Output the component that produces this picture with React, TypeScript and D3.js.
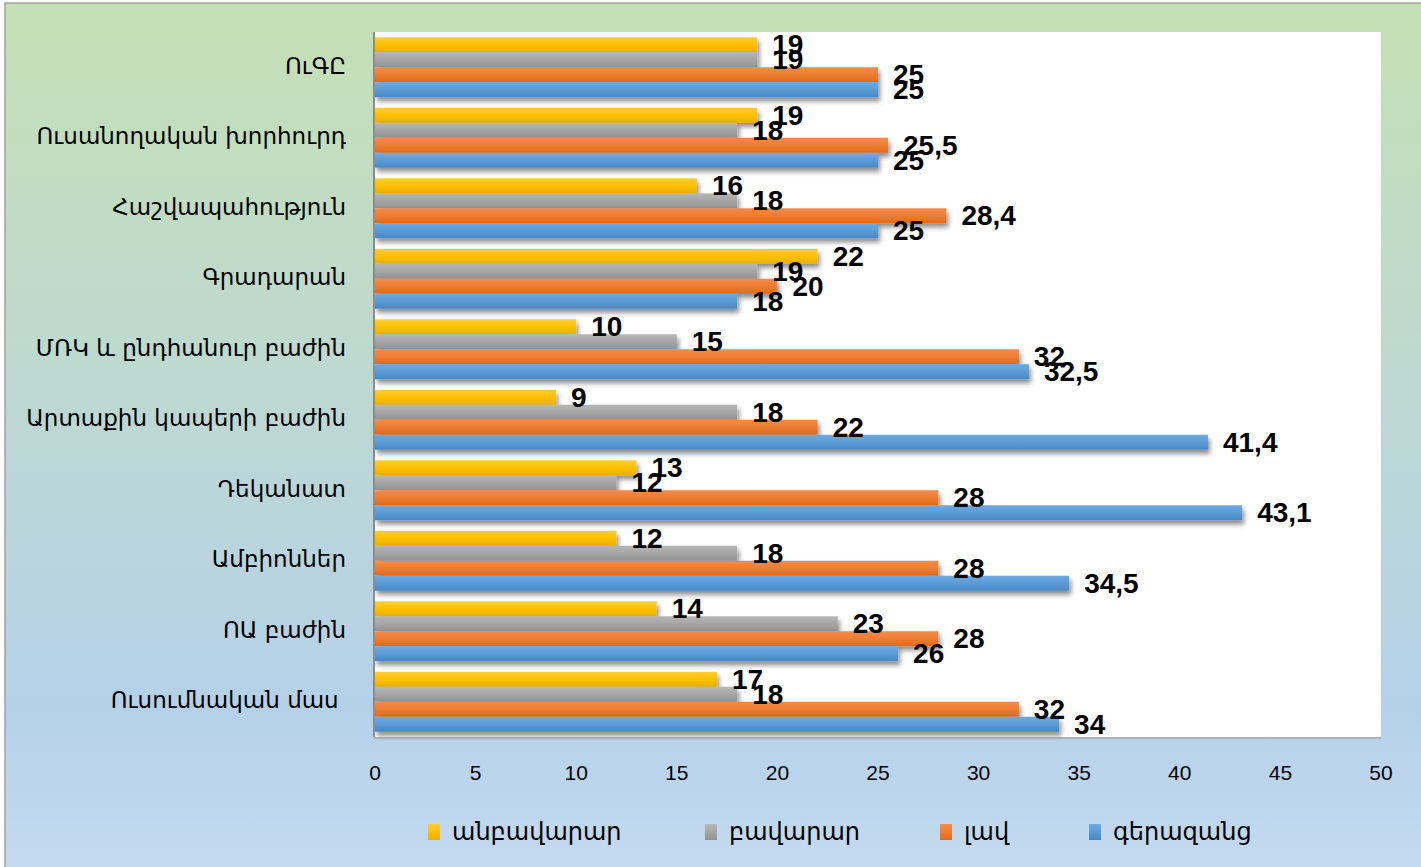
import React, { useEffect, useRef } from 'react';
import * as d3 from 'd3';

// categories from top to bottom
const categories = [
  'ՈւԳԸ',
  'Ուսանողական խորհուրդ',
  'Հաշվապահություն',
  'Գրադարան',
  'ՄՌԿ և ընդհանուր բաժին',
  'Արտաքին կապերի բաժին',
  'Դեկանատ',
  'Ամբիոններ',
  'ՈԱ բաժին',
  'Ուսումնական մաս ',
];

const seriesNames = ['անբավարար', 'բավարար', 'լավ', 'գերազանց'];

const anbavarar = [19, 19, 16, 22, 10, 9, 13, 12, 14, 17];
const bavarar = [19, 18, 18, 19, 15, 18, 12, 18, 23, 18];
const lav = [25, 25.5, 28.4, 20, 32, 22, 28, 28, 28, 32];
const gerazanc = [25, 25, 25, 18, 32.5, 41.4, 43.1, 34.5, 26, 34];

const xTicks = [0, 5, 10, 15, 20, 25, 30, 35, 40, 45, 50];

const colors = [
  ['#ffcd3a', '#ffc000', '#e9b000'],
  ['#b7b7b7', '#a5a5a5', '#939393'],
  ['#f58b4c', '#ed7d31', '#e06a1c'],
  ['#6eaae2', '#5b9bd5', '#4787c8'],
];

const W = 1421;
const H = 867;
const armFont = '"DejaVu Sans", sans-serif';
const numFont = '"Liberation Sans", Arial, sans-serif';

const App = () => {
  const svgRef = useRef<SVGSVGElement>(null);

  useEffect(() => {
    const svg = d3.select(svgRef.current);
    svg.selectAll('*').remove();

    const margin = { top: 32, right: 40, bottom: 130, left: 375 };
    const innerW = 1381 - margin.left;
    const innerH = H - margin.top - margin.bottom;

    const values = [anbavarar, bavarar, lav, gerazanc];
    const rows = categories.map((c, i) => ({ cat: c, vals: values.map(s => s[i]) }));

    const x = d3.scaleLinear().domain([0, 50]).range([0, innerW]);
    const y = d3.scaleBand().domain(categories).range([0, innerH]).paddingInner(0.15).paddingOuter(0.075);
    const ySub = d3.scaleBand().domain(seriesNames).range([0, y.bandwidth()]);

    const defs = svg.append('defs');
    const bg = defs.append('linearGradient').attr('id', 'bg').attr('x1', 0).attr('y1', 0).attr('x2', 0).attr('y2', 1);
    bg.append('stop').attr('offset', '0%').attr('stop-color', '#c5e0b4');
    bg.append('stop').attr('offset', '40%').attr('stop-color', '#bed9cf');
    bg.append('stop').attr('offset', '80%').attr('stop-color', '#b5d1ea');
    bg.append('stop').attr('offset', '100%').attr('stop-color', '#c6dbf0');

    colors.forEach((c, i) => {
      const g = defs.append('linearGradient').attr('id', `bar${i}`).attr('x1', 0).attr('y1', 0).attr('x2', 0).attr('y2', 1);
      g.append('stop').attr('offset', '0%').attr('stop-color', c[0]);
      g.append('stop').attr('offset', '50%').attr('stop-color', c[1]);
      g.append('stop').attr('offset', '100%').attr('stop-color', c[2]);
    });

    const shadow = defs.append('filter').attr('id', 'shadow').attr('x', '-5%').attr('y', '-30%').attr('width', '120%').attr('height', '200%');
    shadow.append('feDropShadow').attr('dx', 2).attr('dy', 4).attr('stdDeviation', 2.5)
      .attr('flood-color', '#000').attr('flood-opacity', 0.45);

    // chart area background + border
    svg.append('rect').attr('x', 0).attr('y', 0).attr('width', W).attr('height', H).attr('fill', '#fff');
    svg.append('rect').attr('x', 5).attr('y', 3).attr('width', W + 20).attr('height', H + 20)
      .attr('fill', 'url(#bg)').attr('stroke', '#a3a3a3').attr('stroke-width', 1.5);

    const g = svg.append('g').attr('transform', `translate(${margin.left},${margin.top})`);

    g.append('rect').attr('width', innerW).attr('height', innerH).attr('fill', '#fff');

    const groups = g.selectAll('g.cat').data(rows).enter().append('g')
      .attr('class', 'cat')
      .attr('transform', d => `translate(0,${y(d.cat)})`);

    groups.selectAll('rect')
      .data(d => d.vals.map((v, i) => ({ v, i })))
      .enter().append('rect')
      .attr('x', 0)
      .attr('y', d => ySub(seriesNames[d.i])!)
      .attr('width', d => x(d.v))
      .attr('height', ySub.bandwidth())
      .attr('fill', d => `url(#bar${d.i})`)
      .attr('filter', 'url(#shadow)');

    // axis lines
    g.append('line').attr('x1', -1).attr('x2', -1).attr('y1', 0).attr('y2', innerH)
      .attr('stroke', '#8c8c8c').attr('stroke-width', 2);
    g.append('line').attr('x1', -1).attr('x2', innerW).attr('y1', innerH + 1).attr('y2', innerH + 1)
      .attr('stroke', '#a6a6a6').attr('stroke-width', 1.5);

    // data labels
    groups.selectAll('text')
      .data(d => d.vals.map((v, i) => ({ v, i })))
      .enter().append('text')
      .attr('x', d => x(d.v) + 15)
      .attr('y', d => ySub(seriesNames[d.i])! + ySub.bandwidth() / 2 + 2)
      .attr('dominant-baseline', 'middle')
      .attr('font-family', numFont)
      .attr('font-weight', 'bold')
      .attr('font-size', 28)
      .attr('fill', '#000')
      .text(d => String(d.v).replace('.', ','));

    // category labels
    g.selectAll('text.cat')
      .data(categories).enter().append('text')
      .attr('class', 'cat')
      .attr('x', -29)
      .attr('y', d => y(d)! + y.bandwidth() / 2)
      .attr('text-anchor', 'end')
      .attr('dominant-baseline', 'middle')
      .attr('font-family', armFont)
      .attr('font-size', 23)
      .attr('fill', '#000')
      .style('white-space', 'pre')
      .text(d => d);

    // x tick labels
    g.selectAll('text.tick')
      .data(xTicks).enter().append('text')
      .attr('class', 'tick')
      .attr('x', d => x(d))
      .attr('y', innerH + 37)
      .attr('text-anchor', 'middle')
      .attr('dominant-baseline', 'middle')
      .attr('font-family', numFont)
      .attr('font-size', 21)
      .attr('fill', '#000')
      .text(d => d);

    // legend
    const legendX = [428, 705, 940, 1089];
    const legend = svg.append('g');
    seriesNames.forEach((name, i) => {
      legend.append('rect').attr('x', legendX[i]).attr('y', 824).attr('width', 12).attr('height', 16)
        .attr('fill', `url(#bar${i})`);
      legend.append('text').attr('x', legendX[i] + 24).attr('y', 833)
        .attr('dominant-baseline', 'middle')
        .attr('font-family', armFont)
        .attr('font-size', 24)
        .attr('fill', '#000')
        .text(name);
    });
  }, []);

  return (
    <div style={{ position: 'fixed', left: 0, top: 0 }}>
      <svg ref={svgRef} width={W} height={H} style={{ display: 'block' }} />
    </div>
  );
};

export default App;
